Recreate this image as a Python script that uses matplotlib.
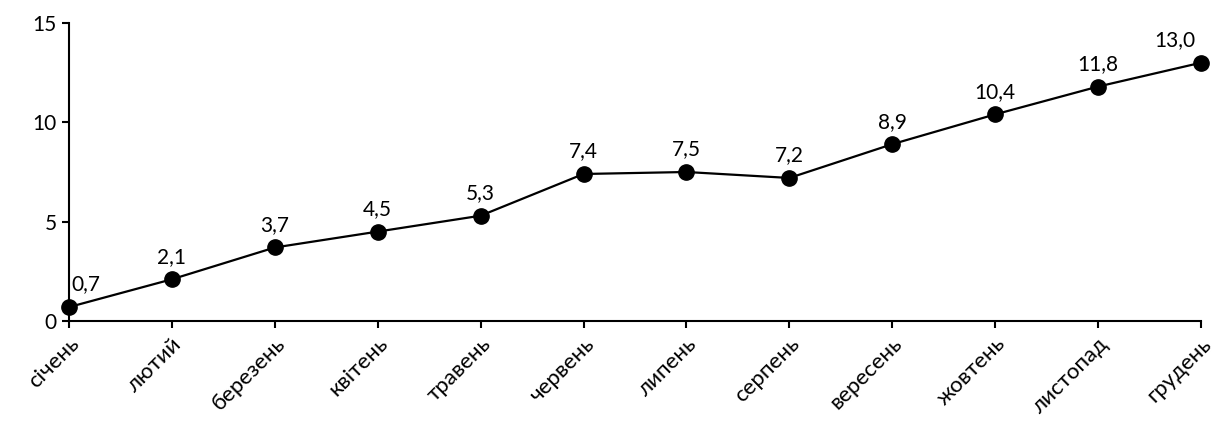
import matplotlib.pyplot as plt

plt.rcParams['font.family'] = ['Lato', 'DejaVu Sans']

months = ['січень', 'лютий', 'березень', 'квітень', 'травень', 'червень',
          'липень', 'серпень', 'вересень', 'жовтень', 'листопад', 'грудень']
values = [0.7, 2.1, 3.7, 4.5, 5.3, 7.4, 7.5, 7.2, 8.9, 10.4, 11.8, 13.0]
y_ticks = [0, 5, 10, 15]

fig = plt.figure(figsize=(12.19, 4.26), dpi=100)
ax = fig.add_axes([0.0566, 0.2465, 0.9286, 0.6995])

x = list(range(len(months)))
ax.plot(x, values, color='black', linewidth=1.6, marker='o', markersize=11,
        zorder=3, clip_on=False)

# підписи значень (крайні зсунуті всередину, як в Excel)
for i, v in enumerate(values):
    label = f'{v:.1f}'.replace('.', ',')
    if i == 0:
        ha, dx = 'left', 2
    elif i == len(values) - 1:
        ha, dx = 'right', -4
    else:
        ha, dx = 'center', 0
    ax.annotate(label, (i, v), xytext=(dx, 9), textcoords='offset points',
                ha=ha, va='bottom', fontsize=15)

ax.set_xlim(0, len(months) - 1)
ax.set_ylim(0, 15)
ax.set_yticks(y_ticks)
ax.set_yticklabels([str(t) for t in y_ticks], fontsize=15)
ax.set_xticks(x)
ax.set_xticklabels(months, rotation=45, ha='right', rotation_mode='anchor', fontsize=16)

ax.spines['top'].set_visible(False)
ax.spines['right'].set_visible(False)
ax.spines['left'].set_linewidth(1.5)
ax.spines['bottom'].set_linewidth(1.5)
ax.tick_params(axis='both', direction='out', length=5, width=1.5, pad=4)

plt.savefig('out.png', dpi=100)
plt.close()
